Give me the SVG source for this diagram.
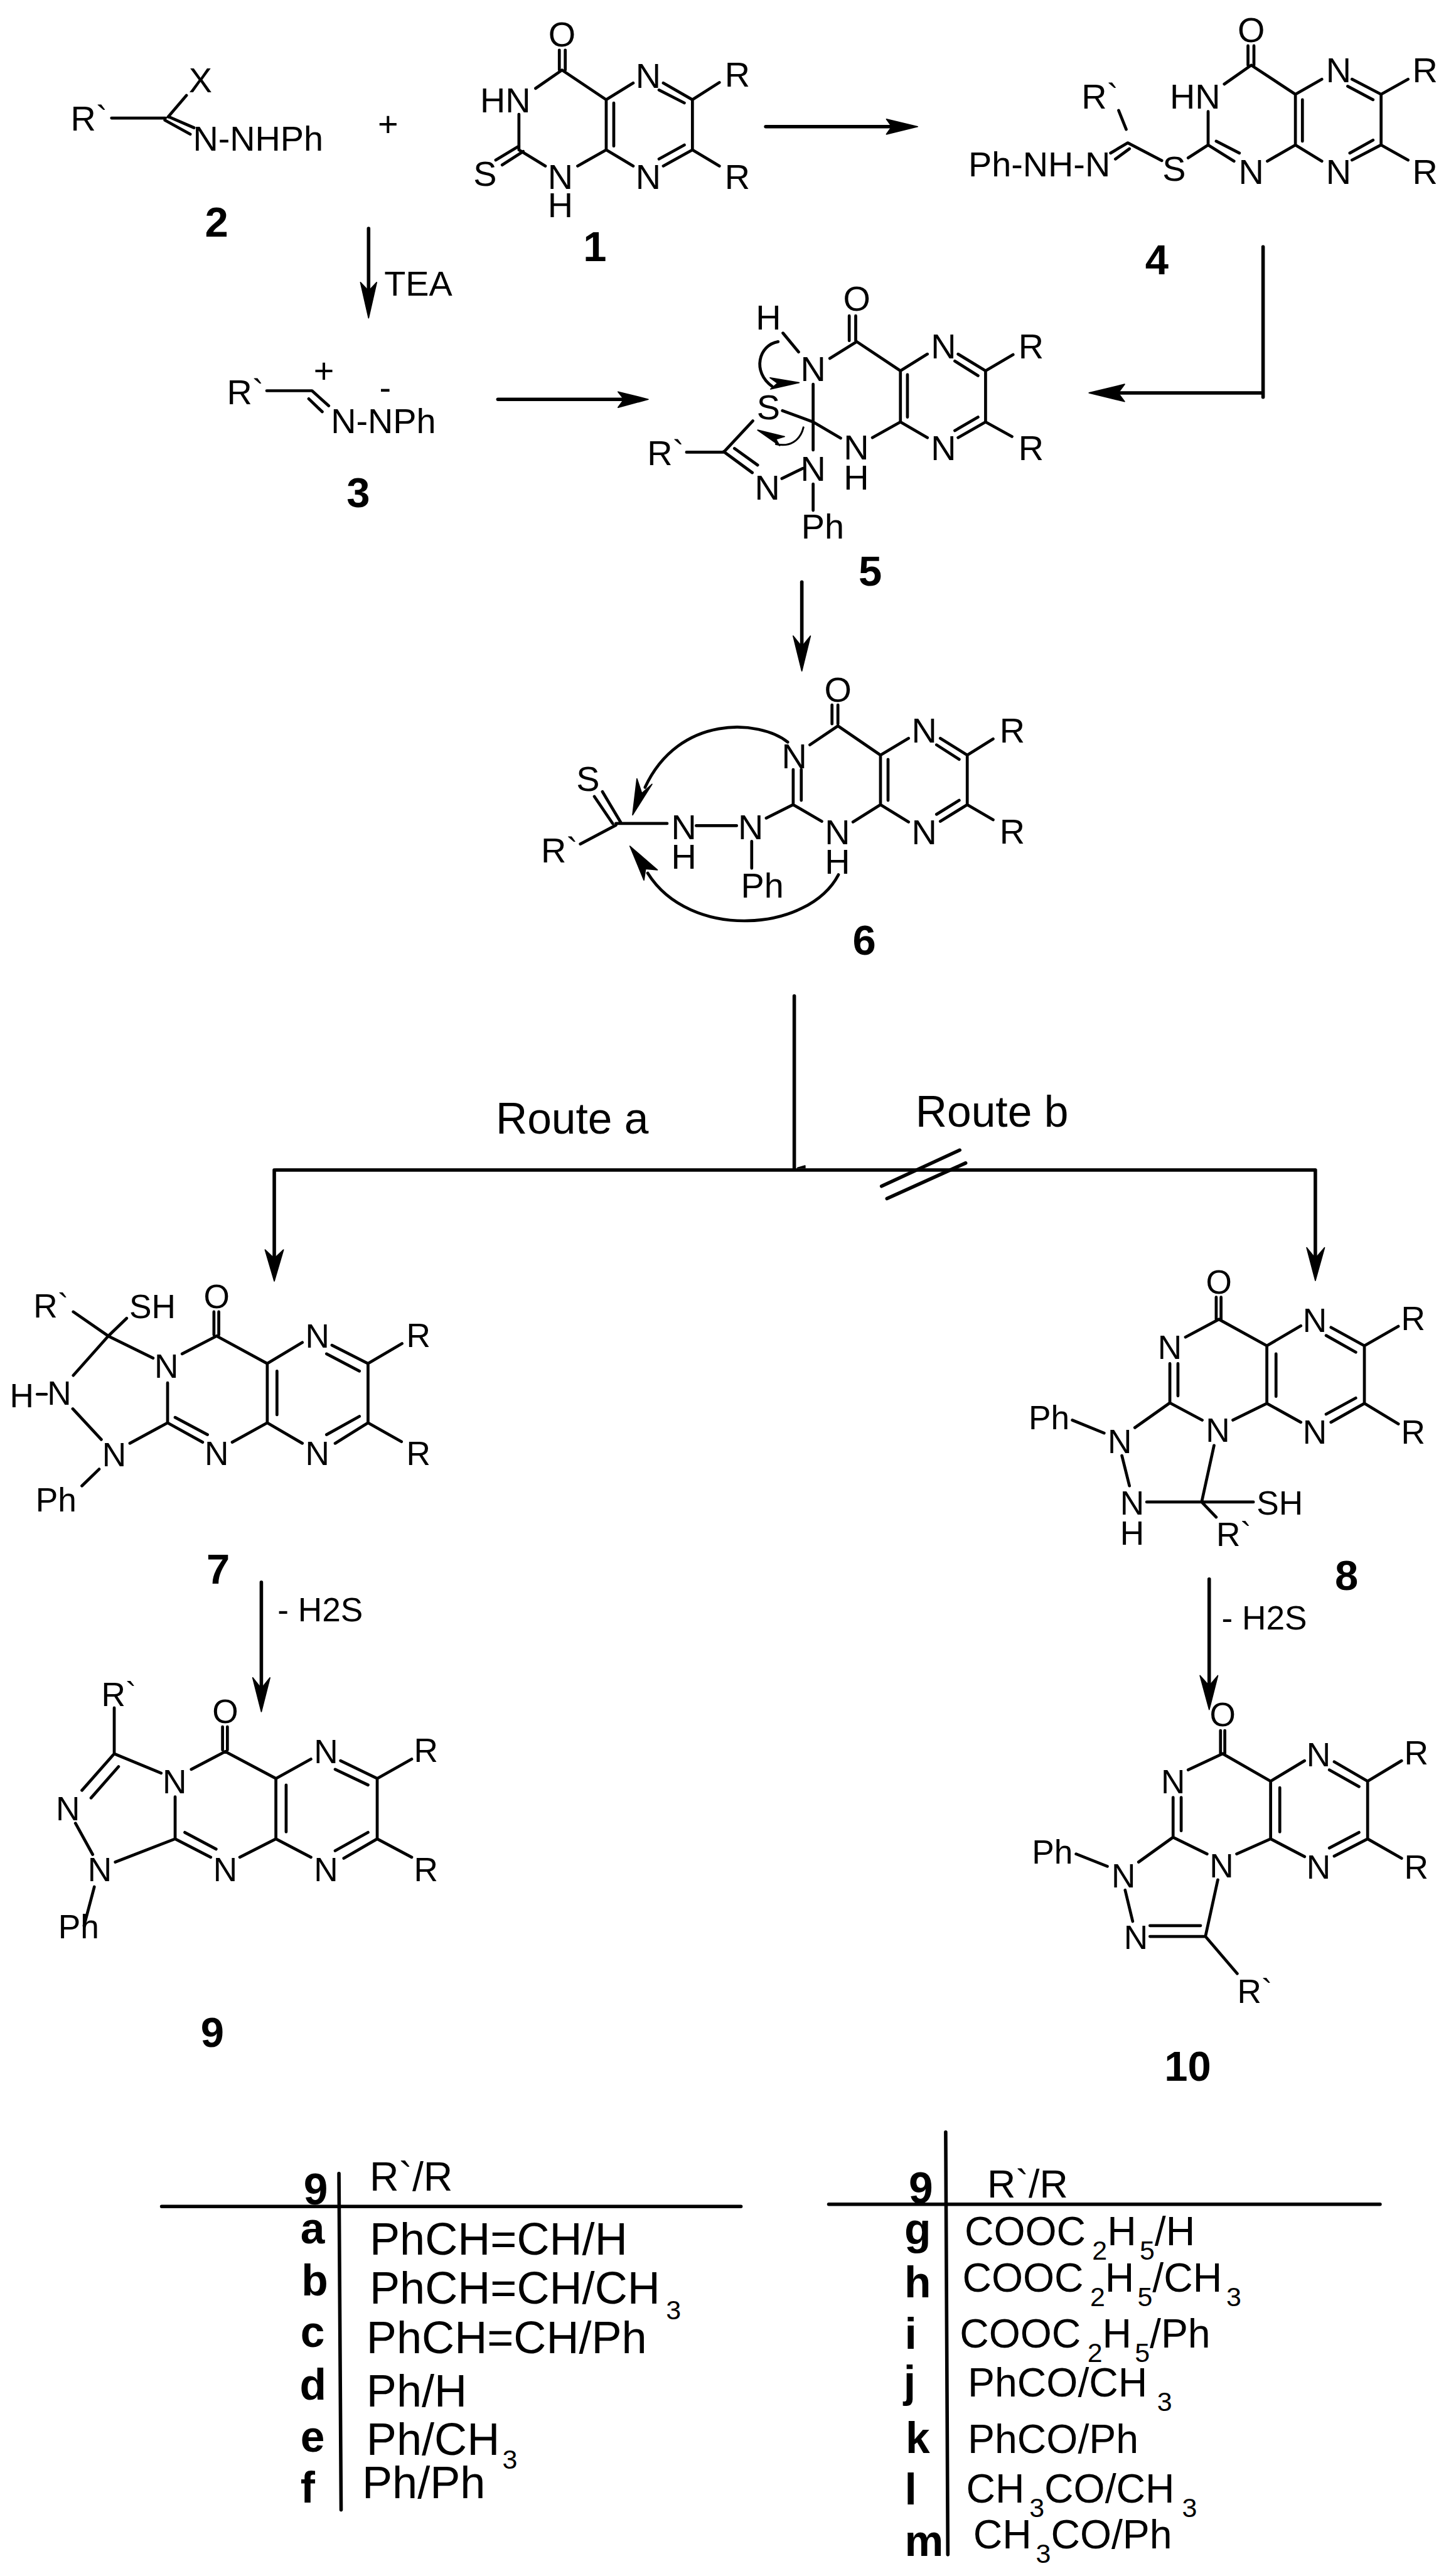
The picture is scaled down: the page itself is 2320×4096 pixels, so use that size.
<svg xmlns="http://www.w3.org/2000/svg" width="2320" height="4096" viewBox="0 0 2320 4096">
<style>
text{font-family:"Liberation Sans",Arial,sans-serif;fill:#000}
.t{font-size:65px}
.s{font-size:62px}
.c{text-anchor:middle}
.n{font-size:78px;font-weight:bold;text-anchor:middle}
.l{font-size:81px;font-weight:bold;text-anchor:middle}
.r{font-size:84px}
.q{font-size:75px}
.sub{font-size:50px}
.b{fill:none;stroke:#000;stroke-width:5.5;stroke-linecap:round;stroke-linejoin:round}
.a{fill:none;stroke:#000;stroke-width:6.5;stroke-linecap:round}
.h{fill:#000;stroke:#000;stroke-width:2;stroke-linejoin:round}
</style>
<rect width="2320" height="4096" fill="#fff"/>
<g transform="scale(0.85862)">
<g id="connectors">
<path class="a" d="M684 424V560"/><polygon class="h" points="684,590 669,524 684,540 699,524"/>
<path class="a" d="M924 741H1170"/><polygon class="h" points="1203,741 1147,727 1158,741 1147,756"/>
<path class="a" d="M1421 235H1670"/><polygon class="h" points="1703,235 1645,221 1655,235 1645,249"/>
<path class="a" d="M2344 458V737M2344 729H2050"/><polygon class="h" points="2021,729 2087,713 2075,729 2087,745"/>
<path class="a" d="M1488 1080V1215"/><polygon class="h" points="1488,1245 1472,1180 1488,1200 1504,1180"/>
<path class="a" d="M1474 1848V2171M511 2171H2440M509 2171V2345M2441 2171V2345"/>
<polygon class="h" points="1480,2167 1494,2163 1494,2167"/>
<polygon class="h" points="509,2377 492,2319 509,2335 526,2319"/>
<polygon class="h" points="2441,2376 2425,2315 2441,2335 2458,2315"/>
<path class="a" d="M1636 2201L1781 2134M1646 2224L1792 2158"/>
<path class="a" d="M485 2936V3145"/><polygon class="h" points="485,3176 469,3113 485,3133 501,3113"/>
<path class="a" d="M2244 2930V3140"/><polygon class="h" points="2244,3172 2227,3109 2244,3128 2260,3109"/>
</g>
<g id="labels">
<text class="t" x="713" y="549">TEA</text>
<text class="t c" x="720" y="253">+</text>
<text x="920" y="2103" style="font-size:81px">Route a</text>
<text x="1699" y="2090" style="font-size:81px">Route b</text>
<text class="s" x="515" y="3008">- H2S</text>
<text class="s" x="2267" y="3024">- H2S</text>
</g>
<g id="node-2">
<path class="b" d="M207 219H307M312 217L346 177M314 217L360 237M306 223L353 249"/>
<text class="t" x="131" y="242">R`</text><text class="t c" x="372" y="171">X</text><text class="t" x="358" y="279">N-NHPh</text>
<text class="n" x="402" y="439">2</text>
</g>
<g id="node-1">
<path class="b" d="M1038 93V130M1049 93V130M1043 130L994 164M1043 130L1125 185L1175 154M1231 154L1285 185M1223 167L1270 191M1285 185V278M1285 185L1335 153M1285 278L1335 308M1285 278L1231 308M1270 269L1223 295M1125 185V278M1139 191V271M1125 278L1175 308M1125 278L1072 308M1012 308L963 278V212M963 271L920 297M971 281L932 306"/>
<text class="t c" x="1043" y="86">O</text><text class="t c" x="1203" y="163">N</text><text class="t c" x="1203" y="350">N</text>
<text class="t" x="1345" y="161">R</text><text class="t" x="1345" y="350">R</text>
<text class="t c" x="1040" y="350">N</text><text class="t c" x="1040" y="403">H</text>
<text class="t" x="891" y="209">HN</text><text class="t c" x="900" y="345">S</text>
<text class="n" x="1104" y="485">1</text>
</g>
<g id="node-3">
<path class="b" d="M495 725H579L610 753M573 740L598 764"/>
<text class="t" x="421" y="750">R`</text><text class="t" x="614" y="804">N-NPh</text>
<text class="t c" x="601" y="711">+</text><text class="t c" x="715" y="742">-</text>
<text class="n" x="665" y="941">3</text>
</g>
<g id="node-4">
<path class="b" d="M2316 85V121M2327 85V121M2322 121L2272 156M2322 121L2404 175L2453 147M2509 147L2563 175M2501 160L2548 185M2563 175V269M2563 175L2613 147M2563 269L2613 297M2563 269L2509 297M2548 260L2505 284M2404 175V269M2417 185V262M2404 269L2453 299M2404 269L2352 299M2242 207V269L2290 299M2257 262L2300 284M2242 269L2205 293M2156 298L2093 265L2061 284M2096 276L2070 295M2076 205L2090 240"/>
<text class="t c" x="2322" y="78">O</text><text class="t c" x="2484" y="153">N</text><text class="t c" x="2484" y="341">N</text>
<text class="t" x="2621" y="153">R</text><text class="t" x="2621" y="341">R</text>
<text class="t c" x="2322" y="341">N</text><text class="t" x="2171" y="201">HN</text>
<text class="t c" x="2179" y="335">S</text><text class="t" x="1797" y="327">Ph-NH-N</text><text class="t" x="2007" y="201">R`</text>
<text class="n" x="2147" y="509">4</text>
</g>
<g id="node-5">
<path class="b" d="M1576 586V632M1588 586V632M1590 634L1540 665M1590 634L1671 688L1721 657M1778 657L1829 688M1772 670L1815 697M1829 688V783M1829 688L1880 658M1829 783L1878 810M1829 783L1778 812M1815 774L1772 799M1671 688V783M1684 695V774M1671 783L1721 812M1671 783L1619 812M1509 713V835M1509 783L1560 813M1452 762L1509 783M1453 618L1482 653M1274 839H1343L1397 781M1343 838L1396 877M1363 832L1406 863M1451 888L1490 869M1509 898V947"/>
<path class="b" d="M1444 634C1408 640 1395 690 1433 717"/>
<polygon class="h" points="1483,710 1429,701 1443,711 1430,722"/>
<path class="b" style="stroke-width:3.5" d="M1491 793C1485 818 1465 830 1440 824"/>
<polygon class="h" points="1406,798 1456,810 1440,815 1447,827"/>
<text class="t c" x="1590" y="577">O</text><text class="t c" x="1751" y="665">N</text><text class="t c" x="1751" y="854">N</text>
<text class="t" x="1890" y="665">R</text><text class="t" x="1890" y="854">R</text>
<text class="t c" x="1589" y="853">N</text><text class="t c" x="1589" y="908">H</text>
<text class="t c" x="1509" y="707">N</text><text class="t c" x="1426" y="611">H</text><text class="t c" x="1426" y="778">S</text>
<text class="t" x="1201" y="863">R`</text><text class="t c" x="1424" y="927">N</text><text class="t c" x="1509" y="892">N</text>
<text class="t" x="1487" y="999">Ph</text>
<text class="n" x="1615" y="1087">5</text>
</g>
<g id="node-6">
<path class="b" d="M1544 1308V1343M1555 1308V1343M1555 1347L1503 1382M1555 1347L1634 1401L1686 1370M1745 1370L1795 1401M1738 1382L1780 1409M1795 1401V1493M1795 1401L1843 1371M1795 1493L1843 1521M1795 1493L1745 1524M1780 1485L1738 1511M1634 1401V1493M1648 1409V1485M1634 1493L1686 1525M1634 1493L1583 1525M1525 1524L1472 1493L1422 1518M1472 1493V1428M1487 1485V1428M1292 1532H1367M1395 1561V1611M1143 1528H1238M1143 1531L1077 1566M1152 1526L1118 1469M1137 1528L1103 1478"/>
<path class="b" d="M1462 1377C1410 1335 1260 1325 1197 1461"/>
<polygon class="h" points="1174,1512 1182,1445 1191,1472 1210,1455"/>
<path class="b" d="M1556 1623C1500 1730 1280 1745 1202 1620"/>
<polygon class="h" points="1169,1570 1195,1633 1198,1612 1220,1614"/>
<text class="t c" x="1555" y="1302">O</text><text class="t c" x="1715" y="1378">N</text><text class="t c" x="1715" y="1566">N</text>
<text class="t" x="1855" y="1378">R</text><text class="t" x="1855" y="1565">R</text>
<text class="t c" x="1554" y="1566">N</text><text class="t c" x="1554" y="1621">H</text><text class="t c" x="1474" y="1425">N</text>
<text class="t c" x="1393" y="1557">N</text><text class="t c" x="1269" y="1557">N</text><text class="t c" x="1269" y="1612">H</text>
<text class="t" x="1375" y="1666">Ph</text><text class="t" x="1004" y="1600">R`</text><text class="t c" x="1091" y="1467">S</text>
<text class="n" x="1604" y="1771">6</text>
</g>
<g id="node-7">
<path class="b" d="M397 2434V2477M406 2434V2477M402 2479L338 2512M402 2479L496 2530L561 2491M616 2496L683 2530M606 2512L667 2544M683 2530V2640M683 2530L746 2493M683 2640L745 2675M683 2640L622 2678M667 2628L606 2662M496 2530V2640M514 2544V2625M496 2640L561 2678M496 2640L431 2676M311 2640L376 2676M325 2630L385 2662M311 2566V2640L241 2678M201 2479L284 2520M201 2479L136 2434M201 2479L235 2446M201 2479L136 2552M69 2587H86M135 2614L188 2671M184 2726L152 2757"/>
<text class="s c" x="402" y="2427">O</text><text class="s c" x="589" y="2501">N</text><text class="s c" x="589" y="2718">N</text>
<text class="s" x="754" y="2499">R</text><text class="s" x="754" y="2718">R</text><text class="s c" x="402" y="2718">N</text>
<text class="s c" x="309" y="2556">N</text><text class="s c" x="212" y="2721">N</text><text class="s" x="62" y="2445">R`</text>
<text class="s" x="240" y="2446">SH</text><text class="s c" x="110" y="2606">N</text><text class="s" x="18" y="2611">H</text>
<text class="s" x="66" y="2805">Ph</text>
<text class="n" x="405" y="2939">7</text>
</g>
<g id="node-9">
<path class="b" d="M413 3204V3247M422 3204V3247M418 3250L355 3283M418 3250L512 3300L577 3264M632 3267L700 3300M622 3283L683 3312M700 3300V3412M700 3300L764 3264M700 3412L764 3446M700 3412L638 3448M683 3400L622 3434M512 3300V3412M531 3312V3399M512 3412L577 3446M512 3412L445 3446M325 3412L391 3446M343 3400L401 3431M325 3334V3412L214 3455M212 3254L299 3290M212 3169V3254L152 3322M220 3278L169 3336M140 3383L172 3441M175 3501L156 3573"/>
<text class="s c" x="418" y="3197">O</text><text class="s c" x="605" y="3271">N</text><text class="s c" x="605" y="3490">N</text>
<text class="s" x="768" y="3269">R</text><text class="s" x="768" y="3490">R</text><text class="s c" x="418" y="3490">N</text>
<text class="s c" x="324" y="3327">N</text><text class="s c" x="185" y="3491">N</text><text class="s c" x="126" y="3377">N</text>
<text class="s" x="188" y="3166">R`</text><text class="s" x="108" y="3597">Ph</text>
<text class="n" x="394" y="3798">9</text>
</g>
<g id="node-8">
<path class="b" d="M2257 2407V2448M2266 2407V2448M2262 2448L2200 2481M2262 2448L2351 2497L2414 2460M2470 2463L2532 2497M2461 2478L2516 2509M2532 2497V2604M2532 2497L2595 2461M2532 2604L2595 2642M2532 2604L2470 2639M2516 2594L2461 2624M2351 2497V2604M2368 2512V2591M2351 2604L2414 2639M2351 2604L2288 2635M2231 2635L2171 2603L2106 2649M2171 2603V2530M2186 2590V2530M1990 2635L2049 2659M2082 2701L2096 2757M2128 2787H2326M2230 2787L2253 2682M2230 2787L2257 2815"/>
<text class="s c" x="2262" y="2400">O</text><text class="s c" x="2440" y="2471">N</text><text class="s c" x="2440" y="2679">N</text>
<text class="s" x="2600" y="2468">R</text><text class="s" x="2600" y="2679">R</text><text class="s c" x="2260" y="2675">N</text>
<text class="s c" x="2171" y="2522">N</text><text class="s c" x="2078" y="2696">N</text><text class="s" x="1909" y="2652">Ph</text>
<text class="s c" x="2101" y="2810">N</text><text class="s c" x="2101" y="2866">H</text><text class="s" x="2332" y="2810">SH</text>
<text class="s" x="2257" y="2868">R`</text>
<text class="n" x="2499" y="2950">8</text>
</g>
<g id="node-10">
<path class="b" d="M2265 3211V3254M2273 3211V3254M2269 3254L2205 3284M2269 3254L2358 3305L2421 3267M2476 3269L2538 3305M2467 3284L2522 3315M2538 3305V3412M2538 3305L2601 3267M2538 3412L2601 3448M2538 3412L2476 3444M2522 3400L2467 3429M2358 3305V3412M2375 3317V3399M2358 3412L2421 3445M2358 3412L2295 3440M2240 3440L2177 3409L2113 3455M2177 3409V3335M2192 3397V3335M1997 3440L2055 3463M2088 3507L2102 3565M2134 3573H2228M2134 3593H2237M2237 3593L2260 3488M2237 3593L2296 3662"/>
<text class="s c" x="2269" y="3203">O</text><text class="s c" x="2447" y="3277">N</text><text class="s c" x="2447" y="3486">N</text>
<text class="s" x="2606" y="3274">R</text><text class="s" x="2606" y="3486">R</text><text class="s c" x="2267" y="3483">N</text>
<text class="s c" x="2177" y="3327">N</text><text class="s c" x="2085" y="3502">N</text><text class="s" x="1915" y="3458">Ph</text>
<text class="s c" x="2108" y="3616">N</text><text class="s" x="2296" y="3716">R`</text>
<text class="n" x="2204" y="3861">10</text>
</g>
<g id="table-left">
<path class="a" d="M300 4094H1375M629 4033L633 4657"/>
<text class="l" x="586" y="4090">9</text>
<text x="686" y="4065" style="font-size:75px">R`/R</text>
<text class="l" x="580" y="4163">a</text><text class="l" x="584" y="4259">b</text><text class="l" x="580" y="4355">c</text>
<text class="l" x="581" y="4452">d</text><text class="l" x="580" y="4549">e</text><text class="l" x="571" y="4643">f</text>
<text class="r" x="686" y="4183">PhCH=CH/H</text>
<text class="r" x="686" y="4274">PhCH=CH/CH<tspan class="sub" dx="11" dy="29">3</tspan></text>
<text class="r" x="680" y="4366">PhCH=CH/Ph</text>
<text class="r" x="680" y="4465">Ph/H</text>
<text class="r" x="680" y="4555">Ph/CH<tspan class="sub" dx="5" dy="26">3</tspan></text>
<text class="r" x="672" y="4635">Ph/Ph</text>
</g>
<g id="table-right">
<path class="a" d="M1538 4090H2561M1755 3956L1759 4740"/>
<text class="l" x="1709" y="4088">9</text>
<text x="1832" y="4078" style="font-size:73px">R`/R</text>
<text class="l" x="1703" y="4164">g</text><text class="l" x="1703" y="4263">h</text><text class="l" x="1690" y="4358">i</text>
<text class="l" x="1688" y="4447">j</text><text class="l" x="1703" y="4551">k</text><text class="l" x="1690" y="4647">l</text><text class="l" x="1715" y="4742">m</text>
<text class="q" x="1790" y="4166">COOC<tspan class="sub" dx="12" dy="27">2</tspan><tspan dy="-27">H</tspan><tspan class="sub" dx="6" dy="27">5</tspan><tspan dy="-27">/H</tspan></text>
<text class="q" x="1786" y="4252">COOC<tspan class="sub" dx="12" dy="27">2</tspan><tspan dy="-27">H</tspan><tspan class="sub" dx="6" dy="27">5</tspan><tspan dy="-27">/CH</tspan><tspan class="sub" dx="8" dy="27">3</tspan></text>
<text class="q" x="1781" y="4356">COOC<tspan class="sub" dx="12" dy="27">2</tspan><tspan dy="-27">H</tspan><tspan class="sub" dx="6" dy="27">5</tspan><tspan dy="-27">/Ph</tspan></text>
<text class="q" x="1796" y="4447">PhCO/CH<tspan class="sub" dx="18" dy="27">3</tspan></text>
<text class="q" x="1796" y="4551">PhCO/Ph</text>
<text class="q" x="1793" y="4643">CH<tspan class="sub" dx="9" dy="27">3</tspan><tspan dy="-27">CO/CH</tspan><tspan class="sub" dx="14" dy="27">3</tspan></text>
<text class="q" x="1806" y="4728">CH<tspan class="sub" dx="8" dy="27">3</tspan><tspan dy="-27">CO/Ph</tspan></text>
</g>
</g>
</svg>
